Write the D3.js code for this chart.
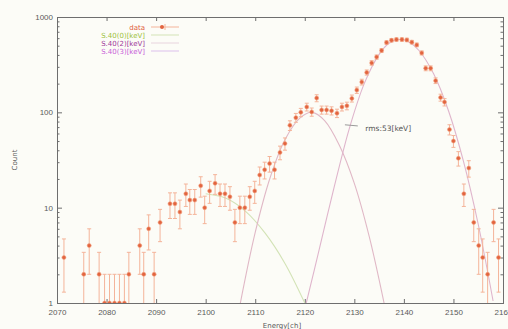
<!DOCTYPE html>
<html>
<head>
<meta charset="utf-8">
<script src="https://cdn.jsdelivr.net/npm/d3@7"></script>
<style>
  html, body { margin: 0; padding: 0; background: #fcfcf7; }
  svg { display: block; }
</style>
</head>
<body>
<div id="chart"></div>
<script>
// measured spectrum (channel, count, error)
const channels = [2071.4, 2075.4, 2076.5, 2078.5, 2079.6, 2080.6, 2081.6, 2082.6, 2083.6, 2084.5,
  2086.7, 2087.5, 2088.5, 2089.6, 2090.8, 2092.8, 2093.8, 2094.8, 2096.0, 2096.8,
  2097.8, 2099.0, 2099.8, 2100.8, 2101.9, 2102.9, 2103.9, 2104.9, 2105.9, 2106.9,
  2107.9, 2108.9, 2109.9, 2110.9, 2111.9, 2112.9, 2113.9, 2115.0, 2116.0, 2117.0,
  2118.2, 2119.2, 2120.4, 2121.4, 2122.4, 2123.4, 2124.4, 2125.4, 2126.5, 2127.5,
  2128.5, 2129.5, 2130.5, 2131.5, 2132.5, 2133.5, 2134.5, 2135.5, 2136.5, 2137.5,
  2138.5, 2139.6, 2140.6, 2141.6, 2142.6, 2143.6, 2144.4, 2145.4, 2146.4, 2147.4,
  2148.2, 2149.2, 2150.0, 2151.0, 2152.1, 2153.1, 2154.1, 2155.1, 2155.9, 2156.9,
  2158.1, 2159.1];
const counts = [3, 2, 4, 2, 1, 1, 1, 1, 1, 2,
  4, 2, 6, 2, 7, 11, 11, 9, 14, 12,
  12, 17, 10, 15, 18, 14, 14, 13, 7, 10,
  10, 13, 15, 22, 25, 29, 25, 38, 47, 73,
  88, 100, 114, 101, 141, 106, 106, 104, 98, 114,
  117, 140, 171, 208, 262, 330, 380, 445, 540, 570,
  580, 580, 575, 545, 510, 420, 290, 290, 215, 143,
  128, 66, 50, 33, 14, 26, 7, 4, 3, 2,
  7, 3];
const errors = [1.7, 1.4, 2.0, 1.4, 1.0, 1.0, 1.0, 1.0, 1.0, 1.4,
  2.0, 1.4, 2.4, 1.4, 2.6, 3.3, 3.3, 3.0, 3.7, 3.5,
  3.5, 4.1, 3.2, 3.9, 4.2, 3.7, 3.7, 3.6, 2.6, 3.2,
  3.2, 3.6, 3.9, 4.7, 5.0, 5.4, 5.0, 6.2, 6.9, 8.5,
  9.4, 10.0, 10.7, 10.0, 11.9, 10.3, 10.3, 10.2, 9.9, 10.7,
  10.8, 11.8, 13.1, 14.4, 16.2, 18.2, 19.5, 21.1, 23.2, 23.9,
  24.1, 24.1, 24.0, 23.3, 22.6, 20.5, 17.0, 17.0, 14.7, 12.0,
  11.3, 8.1, 7.1, 5.7, 3.7, 5.1, 2.6, 2.0, 1.7, 1.4,
  2.6, 1.7];

// fitted peak curves
const peak1Ch = [2100, 2104, 2108, 2112, 2116, 2120];
const peak1Count = [14, 12.6, 9.2, 5.4, 2.6, 1.0];
const peak2Ch = [2107, 2110, 2113, 2116, 2119, 2121.5, 2124, 2127, 2130, 2133, 2136];
const peak2Count = [1.0, 5.5, 20.6, 51.6, 87, 100, 82, 45, 18, 5, 1.0];
const peak3Ch = [2120.3, 2123, 2126, 2129, 2132, 2135, 2137, 2139.2, 2141, 2143, 2146, 2149, 2152, 2155, 2158];
const peak3Count = [1.0, 3.8, 17, 68, 200, 405, 530, 580, 547, 448, 254, 104, 31, 6.7, 1.05];

const xTicks = [2070, 2080, 2090, 2100, 2110, 2120, 2130, 2140, 2150, 2160];
const yTicks = [1, 10, 100, 1000];
const legendLabels = ['data', 'S.40(0)[keV]', 'S.40(2)[keV]', 'S.40(3)[keV]'];
const legendColors = ['#e0603c', '#9cc23c', '#a0389a', '#c860d8'];
const curveColors = ['#d3e3b6', '#e0b8c6', '#dfb5cc'];
const noteText = 'rms:53[keV]';

const width = 508, height = 329;
const margin = {top: 17, right: 5, bottom: 26, left: 57};

const svg = d3.select('#chart').append('svg')
  .attr('width', width)
  .attr('height', height)
  .attr('font-family', 'DejaVu Sans, sans-serif');

svg.append('rect').attr('width', width).attr('height', height).attr('fill', '#fcfcf7');

const x = d3.scaleLinear().domain([2070, 2160]).range([margin.left, width - margin.right]);
const y = d3.scaleLog().domain([1, 1000]).range([height - margin.bottom, margin.top]);

svg.append('clipPath').attr('id', 'plot-clip')
  .append('rect')
  .attr('x', margin.left).attr('y', margin.top)
  .attr('width', x.range()[1] - margin.left)
  .attr('height', y.range()[0] - margin.top);

const axisColor = '#6e6e6e';
const textColor = '#5a5a5a';

// axes (gnuplot style: inward ticks, mirrored)
const xAxisB = d3.axisBottom(x).tickValues(xTicks).tickSize(-4).tickPadding(6).tickFormat(d3.format('d'));
const xAxisT = d3.axisTop(x).tickValues(xTicks).tickSize(-4).tickFormat('');
const minor = [];
[1, 10, 100].forEach(dec => { for (let k = 2; k <= 9; k++) minor.push(dec * k); });
const yAxisL = d3.axisLeft(y).tickValues(yTicks).tickSize(-5).tickPadding(4).tickFormat(d3.format('d'));
const yAxisR = d3.axisRight(y).tickValues(yTicks).tickSize(-5).tickFormat('');
const yMinorL = d3.axisLeft(y).tickValues(minor).tickSize(-2.5).tickFormat('');
const yMinorR = d3.axisRight(y).tickValues(minor).tickSize(-2.5).tickFormat('');

function styleAxis(g) {
  g.select('.domain').attr('stroke', axisColor);
  g.selectAll('.tick line').attr('stroke', axisColor);
  g.selectAll('.tick text').attr('fill', textColor).attr('font-size', 8);
}

svg.append('g').attr('transform', `translate(0,${y.range()[0]})`).call(xAxisB).call(styleAxis);
svg.append('g').attr('transform', `translate(0,${margin.top})`).call(xAxisT).call(styleAxis);
svg.append('g').attr('transform', `translate(${margin.left},0)`).call(yAxisL).call(styleAxis);
svg.append('g').attr('transform', `translate(${x.range()[1]},0)`).call(yAxisR).call(styleAxis);
svg.append('g').attr('transform', `translate(${margin.left},0)`).call(yMinorL).call(styleAxis);
svg.append('g').attr('transform', `translate(${x.range()[1]},0)`).call(yMinorR).call(styleAxis);

svg.append('text')
  .attr('transform', `translate(17,${(margin.top + y.range()[0]) / 2}) rotate(-90)`)
  .attr('text-anchor', 'middle')
  .attr('font-size', 7)
  .attr('fill', textColor)
  .text('Count');

svg.append('text')
  .attr('x', 282).attr('y', height - 1)
  .attr('text-anchor', 'middle')
  .attr('font-size', 7)
  .attr('fill', textColor)
  .text('Energy[ch]');

const plot = svg.append('g').attr('clip-path', 'url(#plot-clip)');

// fitted curves
const line = d3.line().x(d => x(d[0])).y(d => y(d[1])).curve(d3.curveCatmullRom);
[[peak1Ch, peak1Count], [peak2Ch, peak2Count], [peak3Ch, peak3Count]].forEach((c, i) => {
  plot.append('path')
    .datum(d3.zip(c[0], c[1]))
    .attr('fill', 'none')
    .attr('stroke', curveColors[i])
    .attr('stroke-width', 1.1)
    .attr('d', line);
});

// data with error bars
const data = channels.map((c, i) => ({ch: c, n: counts[i], e: errors[i]}));
const errColor = '#f4b49a';
const bars = plot.append('g').selectAll('g').data(data).join('g');
bars.append('line')
  .attr('x1', d => x(d.ch)).attr('x2', d => x(d.ch))
  .attr('y1', d => y(Math.max(d.n - d.e, 0.3)))
  .attr('y2', d => y(d.n + d.e))
  .attr('stroke', errColor).attr('stroke-width', 1);
bars.append('line')
  .attr('x1', d => x(d.ch) - 2).attr('x2', d => x(d.ch) + 2)
  .attr('y1', d => y(d.n + d.e)).attr('y2', d => y(d.n + d.e))
  .attr('stroke', errColor).attr('stroke-width', 1);
bars.filter(d => d.n - d.e > 1).append('line')
  .attr('x1', d => x(d.ch) - 2).attr('x2', d => x(d.ch) + 2)
  .attr('y1', d => y(d.n - d.e)).attr('y2', d => y(d.n - d.e))
  .attr('stroke', errColor).attr('stroke-width', 1);
plot.append('g').selectAll('circle').data(data).join('circle')
  .attr('cx', d => x(d.ch)).attr('cy', d => y(d.n))
  .attr('r', 2)
  .attr('fill', '#e2643f')
  .attr('stroke', '#f2a282')
  .attr('stroke-width', 0.6);

// annotation
const note = svg.append('g');
note.append('line')
  .attr('x1', x(2128.1)).attr('x2', x(2130.7))
  .attr('y1', y(74)).attr('y2', y(72))
  .attr('stroke', '#9a9a9a').attr('stroke-width', 1);
note.append('text')
  .attr('x', x(2132.2)).attr('y', y(67) + 2.5)
  .attr('font-size', 7.5)
  .attr('fill', '#555')
  .text(noteText);

// legend
const legend = svg.append('g');
legendLabels.forEach((lab, i) => {
  const ly = 27 + i * 8;
  legend.append('text')
    .attr('x', 145).attr('y', ly + 2.5)
    .attr('text-anchor', 'end')
    .attr('font-size', 7)
    .attr('fill', legendColors[i])
    .text(lab);
  if (i === 0) {
    legend.append('line').attr('x1', 151).attr('x2', 179).attr('y1', ly).attr('y2', ly)
      .attr('stroke', errColor).attr('stroke-width', 1);
    legend.append('line').attr('x1', 165).attr('x2', 165).attr('y1', ly - 3).attr('y2', ly + 3)
      .attr('stroke', errColor).attr('stroke-width', 1);
    legend.append('circle').attr('cx', 162).attr('cy', ly).attr('r', 2).attr('fill', '#e2643f');
  } else {
    legend.append('line').attr('x1', 151).attr('x2', 179).attr('y1', ly).attr('y2', ly)
      .attr('stroke', i === 1 ? curveColors[0] : (i === 2 ? '#e8d4de' : '#dcc0ec'))
      .attr('stroke-width', 1);
  }
});
</script>
</body>
</html>
